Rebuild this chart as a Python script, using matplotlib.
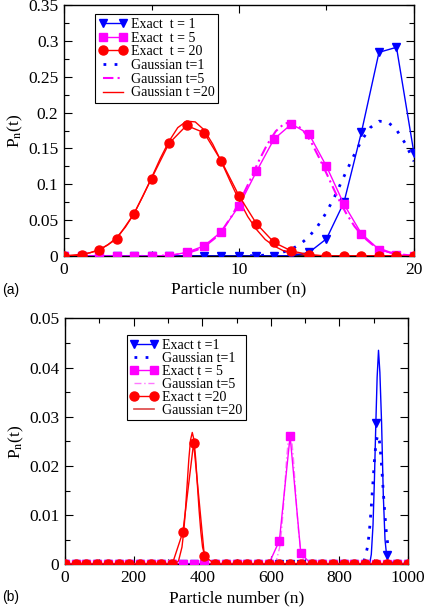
import matplotlib
matplotlib.use('Agg')
from matplotlib import pyplot as plt
from matplotlib import ticker
import numpy as np

plt.rcParams['font.family'] = ['Liberation Serif', 'DejaVu Serif']
plt.rcParams['mathtext.fontset'] = 'stix'

# ---- panel (a): N = 20 ----
n_a = np.arange(0, 21)
exact1_a = [0, 0, 0, 0, 0, 0, 0, 0, 0, 0, 0, 0, 0, 0.0005, 0.005, 0.024,
            0.075, 0.173, 0.284, 0.291, 0.143]
exact5_a = [0, 0, 0, 0, 0, 0, 0.0005, 0.005, 0.014, 0.034, 0.070, 0.118,
            0.163, 0.184, 0.170, 0.125, 0.072, 0.031, 0.009, 0.002, 0.0]
exact20_a = [0, 0.0014, 0.008, 0.0235, 0.059, 0.108, 0.157, 0.182, 0.172,
             0.132, 0.084, 0.045, 0.019, 0.007, 0.002, 0, 0, 0, 0, 0, 0]

g1_x = [10, 11, 11.5, 12, 12.5, 13, 13.5, 14, 14.5, 15, 15.5, 16, 16.5, 17,
        17.5, 18, 18.5, 19, 19.5, 20]
g1_y = [0, 0.0006, 0.0013, 0.0027, 0.0053, 0.0096, 0.0165, 0.027, 0.0418,
        0.061, 0.0846, 0.111, 0.137, 0.161, 0.179, 0.188, 0.187, 0.176,
        0.157, 0.132]

g5_x = [0, 5.1, 5.6, 6.1, 6.6, 7.1, 7.6, 8.1, 8.6, 9.1, 9.6, 10.1, 10.6,
        11.1, 11.6, 12.1, 12.6, 13.1, 13.6, 14.1, 14.6, 15.1, 15.6, 16.1,
        16.6, 17.1, 17.6, 18.1, 18.6, 19.1, 19.6, 20]
g5_y = [0, 0.0001, 0.0005, 0.0011, 0.0024, 0.0046, 0.0085, 0.0148, 0.0244,
        0.038, 0.0563, 0.0788, 0.104, 0.131, 0.155, 0.174, 0.185, 0.186,
        0.177, 0.160, 0.136, 0.110, 0.0837, 0.0605, 0.0414, 0.0267, 0.0164,
        0.0095, 0.0052, 0.0027, 0.0013, 0.0008]

g20_x = [0, 0.5, 1, 1.5, 2, 2.5, 3, 3.5, 4, 4.5, 5, 5.5, 6, 6.5, 7, 7.5, 8,
         8.5, 9, 9.5, 10, 10.5, 11, 11.5, 12, 12.5, 13, 13.5, 14, 15, 20]
g20_y = [0.0005, 0.0012, 0.0024, 0.0047, 0.0088, 0.0154, 0.0256, 0.040,
         0.059, 0.083, 0.109, 0.136, 0.160, 0.179, 0.188, 0.187, 0.176,
         0.156, 0.131, 0.104, 0.078, 0.055, 0.037, 0.023, 0.014, 0.0078,
         0.0042, 0.0021, 0.001, 0.0002, 0]

# ---- panel (b): N = 1000 ----
n_b = np.arange(33) * 31.25
exact1_b_mk = [0] * 29 + [0.0287, 0.0019, 0, 0]
exact5_b = [0] * 20 + [0.0048, 0.0261, 0.0022] + [0] * 10
exact20_b = [0] * 11 + [0.0066, 0.0247, 0.0017] + [0] * 19

exact1_b_x = [0, 888, 893, 898, 902, 906.25, 910, 914, 918, 923, 928, 933,
              937.5, 942, 946, 1000]
exact1_b_y = [0, 0, 0.002, 0.008, 0.017, 0.0287, 0.038, 0.0435, 0.039,
              0.0287, 0.014, 0.005, 0.0019, 0.0003, 0, 0]

gb1_x = [0, 862, 872, 882, 887, 892, 897, 902, 907, 912, 917, 922, 927, 932,
         937, 942, 952, 962, 1000]
gb1_y = [0, 0, 0.0007, 0.0035, 0.0064, 0.0107, 0.0158, 0.0210, 0.0249,
         0.0263, 0.0249, 0.0210, 0.0158, 0.0107, 0.0064, 0.0035, 0.0007,
         0.0001, 0]

gb5_x = [0, 606, 616, 626, 631, 636, 641, 646, 651, 656, 661, 666, 671, 676,
         681, 686, 696, 706, 1000]
gb5_y = [0, 0.0001, 0.0007, 0.0035, 0.0066, 0.0109, 0.0161, 0.0214, 0.0253,
         0.0262, 0.0253, 0.0214, 0.0161, 0.0109, 0.0066, 0.0035, 0.0007,
         0.0001, 0]

gb20_x = [0, 321, 331, 341, 346, 351, 356, 361, 366, 371, 376, 381, 386,
          391, 396, 401, 411, 421, 1000]
gb20_y = [0, 0.0001, 0.0007, 0.0035, 0.0066, 0.0109, 0.0161, 0.0214, 0.0253,
          0.0268, 0.0253, 0.0214, 0.0161, 0.0109, 0.0066, 0.0035, 0.0007,
          0.0001, 0]

blue = '#0000ff'
mag = '#ff00ff'
red = '#ff0000'

fig = plt.figure(figsize=(4.25, 6.09), dpi=100)
ax1 = fig.add_axes([0.1506, 0.5796, 0.8235, 0.4122])
ax2 = fig.add_axes([0.153, 0.0734, 0.807, 0.4039])


def style(ax):
    ax.tick_params(which='both', direction='in', top=True, right=True,
                   labelsize=12.5, pad=4)
    ax.tick_params(which='major', length=6, width=0.8)
    ax.tick_params(which='minor', length=3.5, width=0.8)
    ax.yaxis.set_major_formatter(ticker.FormatStrFormatter('%g'))
    for s in ax.spines.values():
        s.set_linewidth(1.0)


# panel (a)
ax1.plot(n_a, exact1_a, color=blue, lw=1, marker='v', ms=6,
         label='Exact  t = 1', zorder=3)
ax1.plot(n_a, exact5_a, color=mag, lw=1, marker='s', ms=5.5,
         label='Exact  t = 5', zorder=4)
ax1.plot(n_a, exact20_a, color=red, lw=1, marker='o', ms=6.5,
         label='Exact  t = 20', zorder=5)
ax1.plot(g1_x, g1_y, color=blue, lw=2, ls=(0, (1, 3)),
         label='Gaussian t=1', zorder=2)
ax1.plot(g5_x, g5_y, color=mag, lw=1.5, ls=(0, (5, 2, 1, 2)),
         label='Gaussian t=5', zorder=2)
ax1.plot(g20_x, g20_y, color=red, lw=1, label='Gaussian t =20', zorder=2)
ax1.axhline(0, color='black', lw=1.2, zorder=1)

ax1.set_xlim(0, 20)
ax1.set_ylim(0, 0.35)
ax1.xaxis.set_major_locator(ticker.MultipleLocator(10))
ax1.xaxis.set_minor_locator(ticker.MultipleLocator(5))
ax1.yaxis.set_major_locator(ticker.MultipleLocator(0.05))
ax1.yaxis.set_minor_locator(ticker.MultipleLocator(0.025))
style(ax1)
ax1.set_xlabel('Particle number (n)', fontsize=12.5, labelpad=3)
ax1.set_ylabel(r'P$_\mathrm{n}$(t)', fontsize=12.5, labelpad=2)
ax1.legend(loc='upper left', bbox_to_anchor=(0.07, 0.99), fontsize=10,
           numpoints=2, handlelength=2.0, handletextpad=0.3,
           labelspacing=0.05, borderpad=0.25, fancybox=False,
           edgecolor='black', framealpha=1).get_frame().set_linewidth(0.8)

# panel (b)
ax2.plot(exact1_b_x, exact1_b_y, color=blue, lw=1, zorder=3)
ax2.plot(n_b, exact1_b_mk, color=blue, lw=0, marker='v', ms=6, zorder=3)
ax2.plot(gb1_x, gb1_y, color=blue, lw=2, ls=(0, (1, 3)), zorder=2)
ax2.plot(n_b, exact5_b, color=mag, lw=1, marker='s', ms=5.5, zorder=4)
ax2.plot(gb5_x, gb5_y, color='#ff77ff', lw=1, ls=(0, (5, 2, 1, 2)), zorder=2)
ax2.plot(n_b, exact20_b, color=red, lw=1, marker='o', ms=6.5, zorder=5)
ax2.plot(gb20_x, gb20_y, color=red, lw=1, zorder=2)
ax2.axhline(0, color='black', lw=1.2, zorder=1)

h1 = plt.Line2D([], [], color=blue, lw=1, marker='v', ms=6)
h2 = plt.Line2D([], [], color=blue, lw=2, ls=(0, (1, 3)))
h3 = plt.Line2D([], [], color=mag, lw=1, marker='s', ms=5.5)
h4 = plt.Line2D([], [], color='#ff77ff', lw=1, ls=(0, (5, 2, 1, 2)))
h5 = plt.Line2D([], [], color=red, lw=1, marker='o', ms=6.5)
h6 = plt.Line2D([], [], color='#dd4444', lw=1.2)
labels_b = ['Exact t =1', 'Gaussian t=1', 'Exact t = 5', 'Gaussian t=5',
            'Exact t =20', 'Gaussian t=20']
ax2.legend([h1, h2, h3, h4, h5, h6], labels_b, loc='upper left',
           bbox_to_anchor=(0.16, 0.96), fontsize=10, numpoints=2,
           handlelength=2.0, handletextpad=0.3, labelspacing=0.0,
           borderpad=0.25, fancybox=False, edgecolor='black',
           framealpha=1).get_frame().set_linewidth(0.8)

ax2.set_xlim(0, 1000)
ax2.set_ylim(0, 0.05)
ax2.xaxis.set_major_locator(ticker.MultipleLocator(200))
ax2.xaxis.set_minor_locator(ticker.MultipleLocator(100))
ax2.yaxis.set_major_locator(ticker.MultipleLocator(0.01))
ax2.yaxis.set_minor_locator(ticker.MultipleLocator(0.005))
style(ax2)
ax2.set_xlabel('Particle number (n)', fontsize=12.5, labelpad=3)
ax2.set_ylabel(r'P$_\mathrm{n}$(t)', fontsize=12.5, labelpad=2)

fig.text(0.005, 1 - 290 / 609, '(a)', family='Liberation Sans', fontsize=10,
         va='center')
fig.text(0.005, 1 - 597 / 609, '(b)', family='Liberation Sans', fontsize=10,
         va='center')

fig.savefig('out.png', dpi=100)
